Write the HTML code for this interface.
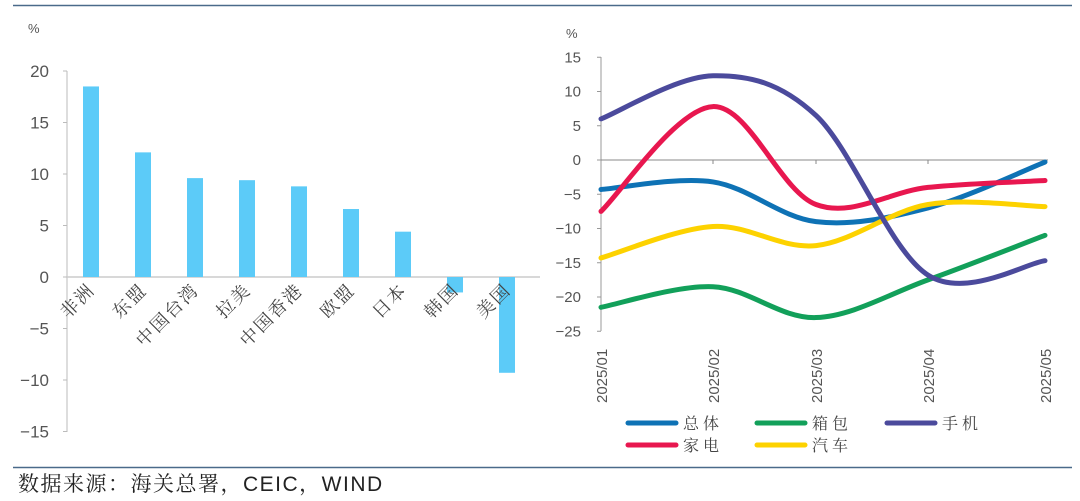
<!DOCTYPE html>
<html><head><meta charset="utf-8"><style>
html,body{margin:0;padding:0;background:#fff;width:1080px;height:501px;overflow:hidden}
svg text{font-family:"Liberation Sans","Noto Sans CJK SC",sans-serif}
</style></head><body>
<svg id="s" width="1080" height="501" viewBox="0 0 1080 501" xmlns="http://www.w3.org/2000/svg">
<line x1="13" y1="5.5" x2="1072" y2="5.5" stroke="#4a6a8a" stroke-width="1.5"/>
<line x1="13" y1="467.5" x2="1072" y2="467.5" stroke="#4a6a8a" stroke-width="1.5"/>
<text x="18" y="491" font-size="21" fill="#222" style="font-family:'Liberation Sans','Noto Serif CJK SC',serif;letter-spacing:1.5px">数据来源：海关总署，CEIC，WIND</text>
<g id="left" fill="#555" font-size="17"></g>
<g id="right" fill="#555" font-size="15"></g>
</svg>
<script>
var ns="http://www.w3.org/2000/svg";
function el(p,t,a,txt){var e=document.createElementNS(ns,t);for(var k in a)e.setAttribute(k,a[k]);if(txt!=null)e.textContent=txt;p.appendChild(e);return e;}
var serif="'Liberation Serif','Noto Serif CJK SC',serif";
var L=document.getElementById('left');
function ly(v){return 277-v*10.3;}
el(L,'text',{x:28,y:33,'font-size':13},'%');
el(L,'line',{x1:67,y1:71,x2:67,y2:432,stroke:'#bbb','stroke-width':1});
el(L,'line',{x1:67,y1:277,x2:540,y2:277,stroke:'#ccc','stroke-width':1.5});
[20,15,10,5,0,-5,-10,-15].forEach(function(v){var y=ly(v);
 el(L,'line',{x1:63,y1:y,x2:67,y2:y,stroke:'#bbb'});
 el(L,'text',{x:49,y:y+6,'text-anchor':'end'},(v<0?'\u2212'+(-v):v));});
var cats=['非洲','东盟','中国台湾','拉美','中国香港','欧盟','日本','韩国','美国'];
var vals=[18.5,12.1,9.6,9.4,8.8,6.6,4.4,-1.5,-9.3];
cats.forEach(function(c,i){var cx=91+52*i;var v=vals[i];
 var y0=ly(Math.max(v,0)),y1=ly(Math.min(v,0));
 el(L,'rect',{x:cx-8,y:y0,width:16,height:y1-y0,fill:'#5ccbf8'});
 var t=el(L,'text',{x:cx+5,y:291,'text-anchor':'end','font-size':18,fill:'#444',transform:'rotate(-45 '+(cx+5)+' 291)'},c);
 t.setAttribute('style','font-family:'+serif+';letter-spacing:2px');});
var R=document.getElementById('right');
function ry(v){return 160-v*6.85;}
var xs=[601,713,816,928,1045];
el(R,'text',{x:566,y:38,'font-size':13},'%');
el(R,'line',{x1:601,y1:57,x2:601,y2:331,stroke:'#999'});
el(R,'line',{x1:601,y1:160,x2:1048,y2:160,stroke:'#888'});
[15,10,5,0,-5,-10,-15,-20,-25].forEach(function(v){var y=ry(v);
 el(R,'line',{x1:597,y1:y,x2:601,y2:y,stroke:'#999'});
 el(R,'text',{x:581,y:y+5,'text-anchor':'end'},(v<0?'\u2212'+(-v):v));});
xs.forEach(function(x,i){ if(i>0) el(R,'line',{x1:x,y1:160,x2:x,y2:164,stroke:'#888'});
 el(R,'text',{x:x+6,y:403,'font-size':15,transform:'rotate(-90 '+(x+6)+' 403)'},'2025/0'+(i+1));});
var series=[
 ['#0e72b5',[-4.3,-3.2,-9,-7,-0.3]],
 ['#12a05a',[-21.5,-18.5,-23,-17.5,-11]],
 ['#e8174f',[-7.5,7.8,-6.5,-4,-3]],
 ['#fdd200',[-14.3,-9.7,-12.5,-6.5,-6.8]],
 ['#4b4a9c',[6,12.3,6.5,-16.8,-14.7]]];
function path(vals){var p=xs.map(function(x,i){return [x,ry(vals[i])];});
 var d='M'+p[0][0]+','+p[0][1];
 for(var i=0;i<p.length-1;i++){var p0=p[i-1]||p[i],p1=p[i],p2=p[i+1],p3=p[i+2]||p[i+1];
  var c1=[p1[0]+(p2[0]-p0[0])/6,p1[1]+(p2[1]-p0[1])/6],c2=[p2[0]-(p3[0]-p1[0])/6,p2[1]-(p3[1]-p1[1])/6];
  d+=' C'+c1+' '+c2+' '+p2;}return d;}
series.forEach(function(s){el(R,'path',{d:path(s[1]),fill:'none',stroke:s[0],'stroke-width':5,'stroke-linecap':'round'});});
var leg=[['#0e72b5','总体',628,423],['#12a05a','箱包',757,423],['#4b4a9c','手机',887,423],['#e8174f','家电',628,445],['#fdd200','汽车',757,445]];
leg.forEach(function(l){el(R,'line',{x1:l[2],y1:l[3],x2:l[2]+48,y2:l[3],stroke:l[0],'stroke-width':5,'stroke-linecap':'round'});
 var t=el(R,'text',{x:l[2]+55,y:l[3]+6,'font-size':16,fill:'#444'},l[1]);
 t.setAttribute('style','font-family:'+serif+';letter-spacing:4px');});
</script>
</body></html>
